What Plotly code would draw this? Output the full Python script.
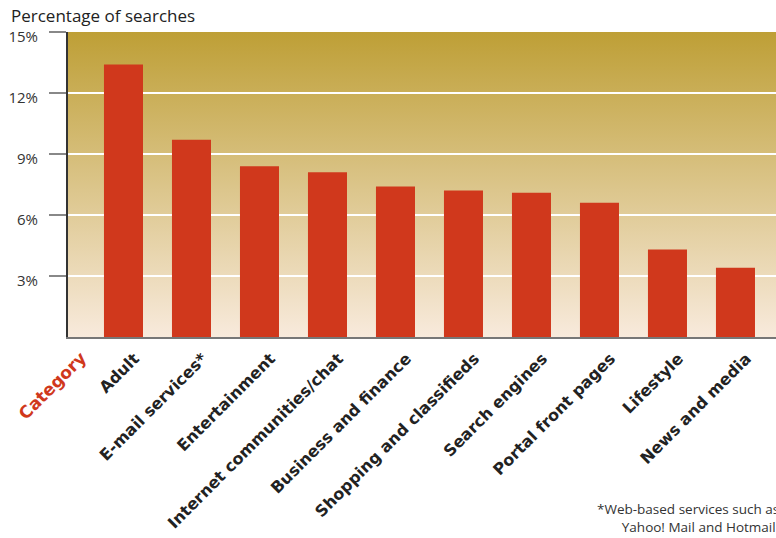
import base64
import plotly.graph_objects as go

categories = ["Adult", "E-mail services*", "Entertainment", "Internet communities/chat",
              "Business and finance", "Shopping and classifieds", "Search engines",
              "Portal front pages", "Lifestyle", "News and media"]
values = [13.4, 9.7, 8.4, 8.1, 7.4, 7.2, 7.1, 6.6, 4.3, 3.4]
y_ticks = [3, 6, 9, 12, 15]
y_title = "Percentage of searches"
x_title = "Category"
footnote = "*Web-based services such as<br>Yahoo! Mail and Hotmail."

svg = ('<svg xmlns="http://www.w3.org/2000/svg" width="10" height="100" preserveAspectRatio="none">'
       '<defs><linearGradient id="g" x1="0" y1="0" x2="0" y2="1">'
       '<stop offset="0" stop-color="#BE9F36"/><stop offset="1" stop-color="#F8EADC"/>'
       '</linearGradient></defs><rect width="10" height="100" fill="url(#g)"/></svg>')
src = "data:image/svg+xml;base64," + base64.b64encode(svg.encode()).decode()

fig = go.Figure(go.Bar(
    x=list(range(len(categories))), y=values,
    marker=dict(color="#D0381C", line=dict(width=0)),
    width=0.574, hoverinfo="skip",
))

fig.update_layout(
    width=776, height=538,
    margin=dict(l=68, r=0, t=32, b=201),
    paper_bgcolor="white", plot_bgcolor="rgba(0,0,0,0)",
    showlegend=False,
    font=dict(family="Open Sans", color="#333"),
    images=[dict(source=src, xref="paper", yref="paper", x=0, y=1, sizex=1, sizey=1,
                 xanchor="left", yanchor="top", sizing="stretch", layer="below")],
    annotations=[
        dict(text=y_title, xref="paper", yref="paper", x=-59/708, y=1 + 16/305,
             xanchor="left", yanchor="middle", showarrow=False,
             font=dict(size=17, color="#222")),
        dict(text=x_title, xref="paper", yref="paper", x=-16/708, y=-49/305,
             xanchor="center", yanchor="middle", showarrow=False, textangle=-45,
             font=dict(family="DejaVu Sans", size=17, color="#D0381C", weight="bold")),
        dict(text=footnote, xref="paper", yref="paper", x=1 + 5/708, y=-181/305,
             xanchor="right", yanchor="middle", showarrow=False, align="right",
             font=dict(size=13.5, color="#333")),
    ],
)

fig.update_xaxes(
    range=[-0.816, 9.596],
    tickmode="array", tickvals=list(range(len(categories))), ticktext=categories,
    tickangle=-45, ticks="", showgrid=False, zeroline=False,
    showline=True, linecolor="#777", linewidth=2,
    tickfont=dict(family="DejaVu Sans", size=16, color="#222", weight="bold"),
    ticklabelshift=11, ticklabelstandoff=4,
)
fig.update_yaxes(
    range=[0, 15], tickmode="array", tickvals=y_ticks,
    ticktext=[f"{v}%" for v in y_ticks],
    ticks="outside", ticklen=17, tickwidth=2, tickcolor="#888",
    showgrid=True, gridcolor="white", gridwidth=2, zeroline=False,
    showline=True, linecolor="#333", linewidth=2,
    tickfont=dict(size=15, color="#333"), ticklabelstandoff=8, ticklabelshift=5,
)

fig.write_html("out.html")
